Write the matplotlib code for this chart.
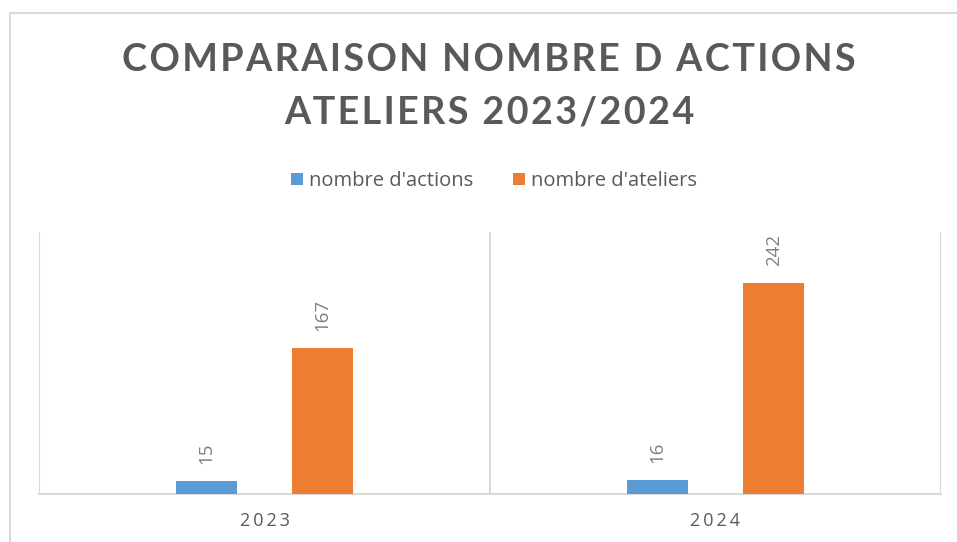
import matplotlib
matplotlib.use("Agg")
import matplotlib.pyplot as plt
import numpy as np
from matplotlib.patches import Rectangle

categories = ["2023", "2024"]
actions = [15, 16]
ateliers = [167, 242]
series_names = ["nombre d'actions", "nombre d'ateliers"]
title_lines = ["COMPARAISON NOMBRE D ACTIONS", "ATELIERS 2023/2024"]

BLUE = "#5B9BD5"
ORANGE = "#ED7D31"
TXT = "#595959"
GRID = "#D9D9D9"
FAM = ["Open Sans", "DejaVu Sans"]
TFAM = ["Lato", "DejaVu Sans"]

def spaced(s, sep="\u200a"):
    return sep.join(list(s))

fig = plt.figure(figsize=(9.57, 5.42), dpi=100)
fig.patches.append(Rectangle((10/957, -0.1), 2.0, (542-13)/542 + 0.1, transform=fig.transFigure,
                             fill=False, edgecolor=GRID, linewidth=1.5))

ax = fig.add_axes([39/957, (542-494)/542, (941-39)/957, (494-232)/542])
x = np.arange(len(categories))
w = 0.135
off = 0.129
b1 = ax.bar(x - off, actions, w, color=BLUE, label=series_names[0], zorder=3)
b2 = ax.bar(x + off, ateliers, w, color=ORANGE, label=series_names[1], zorder=3)

for bars, vals in ((b1, actions), (b2, ateliers)):
    for r, v in zip(bars, vals):
        ax.annotate(str(v), (r.get_x() + r.get_width()/2, r.get_height()),
                    xytext=(0, 12), textcoords="offset points", rotation=90,
                    ha="center", va="bottom", fontsize=13.5, color="#7F7F7F", family=FAM)

ax.set_xlim(-0.5, 1.5)
ax.set_ylim(0, 300)
ax.set_yticks([])
ax.set_xticks(x)
ax.set_xticklabels([spaced(c, "\u2009") for c in categories], fontsize=13, color=TXT, family=FAM)
ax.tick_params(axis="x", length=0, pad=13)
for s in ["top", "right", "left"]:
    ax.spines[s].set_visible(False)
ax.spines["bottom"].set_color(GRID)
ax.spines["bottom"].set_linewidth(1.5)
for xv in [-0.5, 0.5, 1.5]:
    ax.axvline(xv, color=GRID, linewidth=1.5, zorder=1)

for line, yc in zip(title_lines, [60, 112]):
    fig.text(489/957, 1 - yc/542, spaced(line), ha="center", va="center",
             fontsize=27.2, fontweight="bold", color=TXT, family=TFAM)

leg = fig.legend(handles=[b1, b2], labels=series_names, loc="center", bbox_to_anchor=(494/957, 1 - 181/542),
                 ncol=2, frameon=False, handlelength=0.6, handleheight=0.6,
                 handletextpad=0.3, columnspacing=2.0, labelcolor=TXT, prop={"family": FAM, "size": 14.5})

fig.savefig("out.png", dpi=100)
